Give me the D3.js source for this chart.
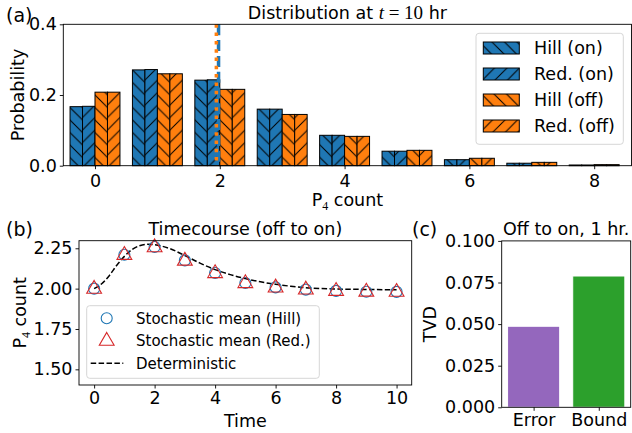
<!DOCTYPE html>
<html>
<head>
<meta charset="utf-8">
<script src="https://cdn.jsdelivr.net/npm/d3@7"></script>
<style>
  body { margin: 0; background: #fff; }
  svg { display: block; font-family: "DejaVu Sans", sans-serif; }
</style>
</head>
<body>
<div class="chart"></div>
<script>
var svgWidth = 632;
var svgHeight = 433;

// (a) distribution at t = 10 hr
var counts = [0, 1, 2, 3, 4, 5, 6, 7, 8];
var hillOn = [0.167, 0.271, 0.242, 0.160, 0.086, 0.041, 0.017, 0.007, 0.002];
var redOn = [0.168, 0.272, 0.243, 0.160, 0.086, 0.041, 0.017, 0.007, 0.002];
var hillOff = [0.208, 0.260, 0.216, 0.145, 0.083, 0.0435, 0.021, 0.0095, 0.003];
var redOff = [0.208, 0.260, 0.216, 0.145, 0.083, 0.0435, 0.021, 0.0095, 0.003];
var meanOn = 1.98;
var meanOff = 1.945;

// (b) timecourse
var times = [0, 1, 2, 3, 4, 5, 6, 7, 8, 9, 10];
var meanHill = [2.00, 2.21, 2.258, 2.175, 2.097, 2.035, 2.008, 1.994, 1.986, 1.981, 1.980];
var meanRed = [1.998, 2.208, 2.255, 2.172, 2.095, 2.033, 2.006, 1.993, 1.985, 1.980, 1.979];
var detT = [0, 0.25, 0.5, 0.75, 1, 1.25, 1.5, 1.75, 2, 2.5, 3, 3.5, 4, 4.5, 5, 5.5, 6, 6.5, 7, 8, 9, 10];
var detY = [2.00, 2.03, 2.08, 2.145, 2.20, 2.242, 2.266, 2.275, 2.272, 2.248, 2.205, 2.158, 2.118, 2.087, 2.062, 2.042, 2.027, 2.015, 2.006, 1.998, 1.995, 1.993];

// (c) TVD
var tvdLabels = ["Error", "Bound"];
var tvdValues = [0.0487, 0.0789];

var blue = "#1f77b4", orange = "#ff7f0e", red = "#d62728";
var fs = 17.5;

var svg = d3.select(".chart")
  .append("svg")
  .attr("width", svgWidth)
  .attr("height", svgHeight);

// hatch patterns
var defs = svg.append("defs");
var hs = 12.5;
defs.append("pattern")
  .attr("id", "hatchBack")
  .attr("patternUnits", "userSpaceOnUse")
  .attr("width", hs).attr("height", hs)
  .append("path")
  .attr("d", `M0,0L${hs},${hs}M-2,${hs - 2}L2,${hs + 2}M${hs - 2},-2L${hs + 2},2`)
  .attr("stroke", "#000").attr("stroke-width", 1);
defs.append("pattern")
  .attr("id", "hatchFwd")
  .attr("patternUnits", "userSpaceOnUse")
  .attr("width", hs).attr("height", hs)
  .append("path")
  .attr("d", `M0,${hs}L${hs},0M-2,2L2,-2M${hs - 2},${hs + 2}L${hs + 2},${hs - 2}`)
  .attr("stroke", "#000").attr("stroke-width", 1);

function styleAxis(g) {
  g.select(".domain").remove();
  g.selectAll(".tick line").attr("stroke", "#000").attr("stroke-width", 0.9);
  g.selectAll(".tick text").attr("font-size", fs).attr("fill", "#000")
    .attr("font-family", "DejaVu Sans");
}

function frame(g, box) {
  g.append("rect")
    .attr("x", box.l).attr("y", box.t)
    .attr("width", box.r - box.l).attr("height", box.b - box.t)
    .attr("fill", "none").attr("stroke", "#000").attr("stroke-width", 0.9);
}

// ---------------- panel (a) ----------------
var boxA = {l: 63.3, r: 631.5, t: 24.3, b: 165.7};
var xA = d3.scaleLinear().domain([-0.508, 8.598]).range([boxA.l, boxA.r]);
var yA = d3.scaleLinear().domain([0, 0.4]).range([boxA.b, boxA.t]);
var gA = svg.append("g");

var seriesA = [
  {name: "Hill (on)", vals: hillOn, color: blue, hatch: "hatchBack", off: -0.4},
  {name: "Red. (on)", vals: redOn, color: blue, hatch: "hatchFwd", off: -0.2},
  {name: "Hill (off)", vals: hillOff, color: orange, hatch: "hatchBack", off: 0},
  {name: "Red. (off)", vals: redOff, color: orange, hatch: "hatchFwd", off: 0.2}
];

seriesA.forEach(function(s) {
  var sel = gA.append("g").selectAll("g")
    .data(counts)
    .enter()
    .append("g");
  sel.append("rect")
    .attr("x", d => xA(d + s.off))
    .attr("y", (d, i) => yA(s.vals[i]))
    .attr("width", xA(0.2) - xA(0))
    .attr("height", (d, i) => yA(0) - yA(s.vals[i]))
    .attr("fill", s.color);
  sel.append("rect")
    .attr("x", d => xA(d + s.off))
    .attr("y", (d, i) => yA(s.vals[i]))
    .attr("width", xA(0.2) - xA(0))
    .attr("height", (d, i) => yA(0) - yA(s.vals[i]))
    .attr("fill", `url(#${s.hatch})`)
    .attr("stroke", "#000")
    .attr("stroke-width", 1);
});

// mean lines
gA.append("line")
  .attr("x1", xA(meanOn)).attr("x2", xA(meanOn))
  .attr("y1", boxA.t).attr("y2", boxA.b)
  .attr("stroke", blue).attr("stroke-width", 3.5)
  .attr("stroke-dasharray", "11,4.8");
gA.append("line")
  .attr("x1", xA(meanOff)).attr("x2", xA(meanOff))
  .attr("y1", boxA.t).attr("y2", boxA.b)
  .attr("stroke", orange).attr("stroke-width", 3.5)
  .attr("stroke-dasharray", "3.5,4.8");

gA.append("g")
  .attr("transform", `translate(0, ${boxA.b})`)
  .call(d3.axisBottom(xA).tickValues([0, 2, 4, 6, 8]).tickSize(3.5).tickPadding(5))
  .call(styleAxis);
gA.append("g")
  .attr("transform", `translate(${boxA.l}, 0)`)
  .call(d3.axisLeft(yA).tickValues([0, 0.2, 0.4]).tickFormat(d3.format(".1f")).tickSize(3.5).tickPadding(3))
  .call(styleAxis);
frame(gA, boxA);

gA.append("text")
  .attr("x", (boxA.l + boxA.r) / 2).attr("y", 18.5)
  .attr("text-anchor", "middle").attr("font-size", fs)
  .html('Distribution at <tspan font-family="Liberation Serif" font-style="italic" font-size="19">t</tspan><tspan font-family="Liberation Serif" font-size="19"> = 10</tspan> hr');

gA.append("text")
  .attr("transform", `translate(24, ${(boxA.t + boxA.b) / 2}) rotate(-90)`)
  .attr("text-anchor", "middle").attr("font-size", fs)
  .text("Probability");
gA.append("text")
  .attr("x", (boxA.l + boxA.r) / 2).attr("y", 206)
  .attr("text-anchor", "middle").attr("font-size", fs)
  .html('P<tspan font-size="12" dy="4" font-family="Liberation Serif">4</tspan><tspan dy="-4"> count</tspan>');

// legend (a)
var legA = gA.append("g");
legA.append("rect")
  .attr("x", 476).attr("y", 33.3).attr("width", 147.3).attr("height", 111)
  .attr("rx", 3).attr("fill", "#fff").attr("fill-opacity", 0.8)
  .attr("stroke", "#d6d6d6").attr("stroke-width", 1);
seriesA.forEach(function(s, i) {
  var cy = 48 + i * 26;
  legA.append("rect")
    .attr("x", 483.3).attr("y", cy - 6).attr("width", 36).attr("height", 12)
    .attr("fill", s.color);
  legA.append("rect")
    .attr("x", 483.3).attr("y", cy - 6).attr("width", 36).attr("height", 12)
    .attr("fill", `url(#${s.hatch})`).attr("stroke", "#000").attr("stroke-width", 1);
  legA.append("text")
    .attr("x", 534).attr("y", cy + 6.3).attr("font-size", fs)
    .text(s.name);
});

svg.append("text").attr("x", 6).attr("y", 22).attr("font-size", 19).text("(a)");

// ---------------- panel (b) ----------------
var boxB = {l: 79, r: 411.7, t: 240.7, b: 385};
var xB = d3.scaleLinear().domain([-0.5, 10.5]).range([boxB.l, boxB.r]);
var yB = d3.scaleLinear().domain([1.403, 2.297]).range([boxB.b, boxB.t]);
var gB = svg.append("g");

var line = d3.line()
  .x((d, i) => xB(detT[i]))
  .y(d => yB(d))
  .curve(d3.curveMonotoneX);
gB.append("path")
  .attr("d", line(detY))
  .attr("fill", "none").attr("stroke", "#000").attr("stroke-width", 1.5)
  .attr("stroke-dasharray", "5.5,2.4");

gB.append("g").selectAll("circle")
  .data(meanHill)
  .enter()
  .append("circle")
  .attr("cx", (d, i) => xB(times[i]))
  .attr("cy", d => yB(d))
  .attr("r", 5.5)
  .attr("fill", "none").attr("stroke", blue).attr("stroke-width", 1.1);

var tri = d3.symbol().type(d3.symbolTriangle).size(95);
gB.append("g").selectAll("path")
  .data(meanRed)
  .enter()
  .append("path")
  .attr("d", tri)
  .attr("transform", (d, i) => `translate(${xB(times[i])}, ${yB(d)})`)
  .attr("fill", "none").attr("stroke", red).attr("stroke-width", 1.1);

gB.append("g")
  .attr("transform", `translate(0, ${boxB.b})`)
  .call(d3.axisBottom(xB).tickValues([0, 2, 4, 6, 8, 10]).tickSize(3.5).tickPadding(3))
  .call(styleAxis);
gB.append("g")
  .attr("transform", `translate(${boxB.l}, 0)`)
  .call(d3.axisLeft(yB).tickValues([1.5, 1.75, 2.0, 2.25]).tickFormat(d3.format(".2f")).tickSize(3.5).tickPadding(3))
  .call(styleAxis);
frame(gB, boxB);

gB.append("text")
  .attr("x", (boxB.l + boxB.r) / 2).attr("y", 235)
  .attr("text-anchor", "middle").attr("font-size", fs)
  .text("Timecourse (off to on)");
gB.append("text")
  .attr("x", (boxB.l + boxB.r) / 2).attr("y", 427)
  .attr("text-anchor", "middle").attr("font-size", fs)
  .text("Time");
gB.append("text")
  .attr("transform", `translate(26, ${(boxB.t + boxB.b) / 2}) rotate(-90)`)
  .attr("text-anchor", "middle").attr("font-size", fs)
  .html('P<tspan font-size="12" dy="4" font-family="Liberation Serif">4</tspan><tspan dy="-4"> count</tspan>');

// legend (b)
var legB = gB.append("g");
legB.append("rect")
  .attr("x", 86.7).attr("y", 305.7).attr("width", 232.6).attr("height", 72.6)
  .attr("rx", 3).attr("fill", "#fff").attr("fill-opacity", 0.8)
  .attr("stroke", "#d6d6d6").attr("stroke-width", 1);
legB.append("circle")
  .attr("cx", 106.7).attr("cy", 318.3).attr("r", 5.5)
  .attr("fill", "none").attr("stroke", blue).attr("stroke-width", 1.1);
legB.append("path")
  .attr("d", tri)
  .attr("transform", "translate(106.7, 341)")
  .attr("fill", "none").attr("stroke", red).attr("stroke-width", 1.1);
legB.append("line")
  .attr("x1", 90.7).attr("x2", 123.3).attr("y1", 363.3).attr("y2", 363.3)
  .attr("stroke", "#000").attr("stroke-width", 1.5).attr("stroke-dasharray", "5.5,2.4");
["Stochastic mean (Hill)", "Stochastic mean (Red.)", "Deterministic"].forEach(function(t, i) {
  legB.append("text")
    .attr("x", 136).attr("y", [318.3, 341, 363.3][i] + 5.4)
    .attr("font-size", 15).text(t);
});

svg.append("text").attr("x", 6).attr("y", 236).attr("font-size", 19).text("(b)");

// ---------------- panel (c) ----------------
var boxC = {l: 501.7, r: 630.7, t: 240.9, b: 407.3};
var xC = d3.scaleLinear().domain([-0.49, 1.49]).range([boxC.l, boxC.r]);
var yC = d3.scaleLinear().domain([0, 0.1]).range([boxC.b, boxC.t]);
var gC = svg.append("g");

gC.selectAll("rect.bar")
  .data(tvdValues)
  .enter()
  .append("rect")
  .attr("class", "bar")
  .attr("x", (d, i) => xC(i - 0.4))
  .attr("y", d => yC(d))
  .attr("width", xC(0.8) - xC(0))
  .attr("height", d => yC(0) - yC(d))
  .attr("fill", (d, i) => ["#9467bd", "#2ca02c"][i])
  .attr("stroke", "#fff").attr("stroke-width", 1);

gC.append("g")
  .attr("transform", `translate(0, ${boxC.b})`)
  .call(d3.axisBottom(xC).tickValues([0, 1]).tickFormat((d, i) => tvdLabels[i]).tickSize(3.5).tickPadding(3))
  .call(styleAxis);
gC.append("g")
  .attr("transform", `translate(${boxC.l}, 0)`)
  .call(d3.axisLeft(yC).tickValues([0, 0.025, 0.05, 0.075, 0.1]).tickFormat(d3.format(".3f")).tickSize(3.5).tickPadding(3))
  .call(styleAxis);
frame(gC, boxC);

gC.append("text")
  .attr("x", (boxC.l + boxC.r) / 2).attr("y", 235)
  .attr("text-anchor", "middle").attr("font-size", fs)
  .text("Off to on, 1 hr.");
gC.append("text")
  .attr("transform", `translate(436, ${(boxC.t + boxC.b) / 2}) rotate(-90)`)
  .attr("text-anchor", "middle").attr("font-size", fs)
  .text("TVD");

svg.append("text").attr("x", 412).attr("y", 236).attr("font-size", 19).text("(c)");
</script>
</body>
</html>
